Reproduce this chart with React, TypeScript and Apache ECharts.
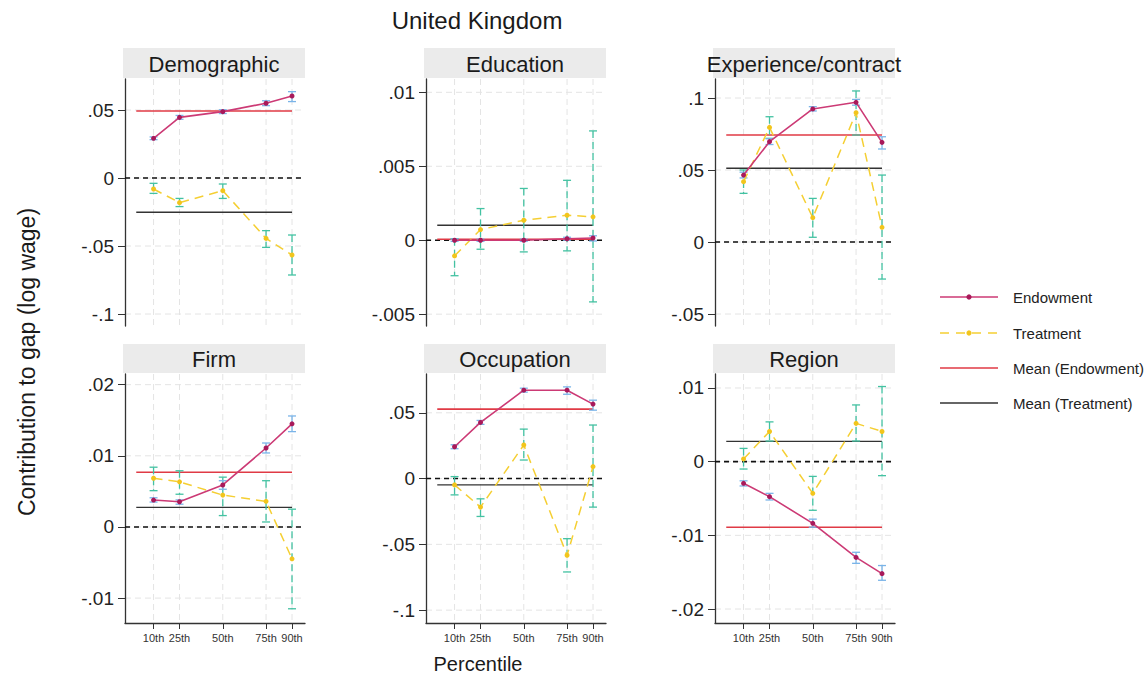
import { useEffect, useRef } from "react";
import * as echarts from "echarts";

// Percentiles on the x axis
const PCT = [10, 25, 50, 75, 90];
const PCT_LABELS = ["10th", "25th", "50th", "75th", "90th"];

const PANEL_NAMES = ["Demographic", "Education", "Experience/contract", "Firm", "Occupation", "Region"];

// Endowment estimates per percentile: [estimate, lower CI, upper CI]
const endowDemographic = [[0.0292, 0.0282, 0.0302], [0.0446, 0.0432, 0.046], [0.0488, 0.0474, 0.0502], [0.055, 0.0532, 0.0568], [0.0603, 0.0562, 0.0635]];
const endowEducation = [[0.0, -0.00008, 0.00008], [0.0, -0.00008, 0.00008], [0.0, -0.00008, 0.00008], [0.0001, 0.0, 0.0002], [0.00015, -0.00005, 0.0003]];
const endowExperience = [[0.0465, 0.0445, 0.0485], [0.0697, 0.0677, 0.0717], [0.0924, 0.091, 0.094], [0.097, 0.095, 0.099], [0.0692, 0.0646, 0.0731]];
const endowFirm = [[0.00378, 0.0035, 0.0041], [0.00354, 0.0032, 0.0038], [0.0059, 0.0053, 0.0065], [0.0111, 0.0104, 0.0118], [0.0145, 0.0134, 0.0156]];
const endowOccupation = [[0.0242, 0.0227, 0.0257], [0.0427, 0.0412, 0.0442], [0.0672, 0.0657, 0.0687], [0.0672, 0.0641, 0.0697], [0.0566, 0.052, 0.0596]];
const endowRegion = [[-0.00294, -0.0033, -0.0026], [-0.00475, -0.0052, -0.0043], [-0.00837, -0.0089, -0.0078], [-0.013, -0.0138, -0.0123], [-0.0152, -0.0161, -0.0141]];

// Treatment estimates per percentile: [estimate, lower CI, upper CI]
const treatDemographic = [[-0.0081, -0.0113, -0.0039], [-0.0181, -0.021, -0.015], [-0.0093, -0.015, -0.0044], [-0.0444, -0.051, -0.0387], [-0.0566, -0.0713, -0.0419]];
const treatEducation = [[-0.00106, -0.0024, 0.0001], [0.00072, -0.00061, 0.00214], [0.00135, -0.00079, 0.0035], [0.00169, -0.00072, 0.00405], [0.00158, -0.00417, 0.00739]];
const treatExperience = [[0.0419, 0.0338, 0.05], [0.0796, 0.072, 0.087], [0.0169, 0.0033, 0.0303], [0.0898, 0.0743, 0.1049], [0.0102, -0.0257, 0.0465]];
const treatFirm = [[0.00685, 0.0051, 0.0084], [0.00634, 0.0046, 0.0079], [0.00448, 0.0016, 0.007], [0.0036, 0.0007, 0.0065], [-0.00448, -0.0115, 0.0025]];
const treatOccupation = [[-0.0048, -0.0124, 0.0015], [-0.0217, -0.0288, -0.0154], [0.0255, 0.0141, 0.0376], [-0.0583, -0.071, -0.0457], [0.0091, -0.0217, 0.0407]];
const treatRegion = [[0.00037, -0.001, 0.0018], [0.0041, 0.0028, 0.0054], [-0.0043, -0.0066, -0.002], [0.0052, 0.0028, 0.0077], [0.0041, -0.0019, 0.0102]];

// Means: [endowment, treatment]
const meanDemographic = [0.0493, -0.0252];
const meanEducation = [0.00007, 0.00101];
const meanExperience = [0.0743, 0.0512];
const meanFirm = [0.0077, 0.00275];
const meanOccupation = [0.0528, -0.0048];
const meanRegion = [-0.0089, 0.00276];

// Y-axis tick values per panel
const ticksDemographic = [-0.1, -0.05, 0, 0.05];
const ticksEducation = [-0.005, 0, 0.005, 0.01];
const ticksExperience = [-0.05, 0, 0.05, 0.1];
const ticksFirm = [-0.01, 0, 0.01, 0.02];
const ticksOccupation = [-0.1, -0.05, 0, 0.05];
const ticksRegion = [-0.02, -0.01, 0, 0.01];

// Y-axis extents per panel
const rangeDemographic = [-0.1088, 0.0728];
const rangeEducation = [-0.0058, 0.0109];
const rangeExperience = [-0.0583, 0.1132];
const rangeFirm = [-0.0135, 0.0215];
const rangeOccupation = [-0.1098, 0.0795];
const rangeRegion = [-0.0219, 0.0119];

const ENDOW = [endowDemographic, endowEducation, endowExperience, endowFirm, endowOccupation, endowRegion];
const TREAT = [treatDemographic, treatEducation, treatExperience, treatFirm, treatOccupation, treatRegion];
const MEANS = [meanDemographic, meanEducation, meanExperience, meanFirm, meanOccupation, meanRegion];
const TICKS = [ticksDemographic, ticksEducation, ticksExperience, ticksFirm, ticksOccupation, ticksRegion];
const RANGES = [rangeDemographic, rangeEducation, rangeExperience, rangeFirm, rangeOccupation, rangeRegion];

const FONT = "Liberation Sans, Arial, Helvetica, sans-serif";
const C_ENDOW = "#cc3a75";
const C_ENDOW_DOT = "#a8195a";
const C_ENDOW_CI = "#7ab4e8";
const C_TREAT = "#f5cf33";
const C_TREAT_CI = "#43c2a2";
const C_MEAN_E = "#e03a45";
const C_MEAN_T = "#333333";
const C_GRID = "#e4e4e4";
const C_AXIS = "#333333";

const COL_LEFT = [125, 426, 715];
const ROW_TOP = [79, 374];
const ROW_H = [247, 249];
const PLOT_W = 180;
const X_MIN = -6.5;
const X_MAX = 97.5;

const fmtTick = (v: number) => (v === 0 ? "0" : String(v).replace(/^(-?)0\./, "$1."));

function errorBars(color: string, dashed: boolean) {
  return (params: any, api: any) => {
    const x = api.value(0);
    const hi = api.coord([x, api.value(2)]);
    const lo = api.coord([x, api.value(1)]);
    const w = 4;
    const base = { stroke: color, lineWidth: 1.3 };
    return {
      type: "group",
      children: [
        { type: "line", shape: { x1: hi[0], y1: hi[1], x2: lo[0], y2: lo[1] }, style: { ...base, lineDash: dashed ? [7, 4] : null } },
        { type: "line", shape: { x1: hi[0] - w, y1: hi[1], x2: hi[0] + w, y2: hi[1] }, style: base },
        { type: "line", shape: { x1: lo[0] - w, y1: lo[1], x2: lo[0] + w, y2: lo[1] }, style: base },
      ],
    };
  };
}

function buildOption() {
  const grid: any[] = [];
  const xAxis: any[] = [];
  const yAxis: any[] = [];
  const series: any[] = [];
  const graphic: any[] = [];

  PANEL_NAMES.forEach((name, i) => {
    const row = Math.floor(i / 3);
    const col = i % 3;
    const left = COL_LEFT[col];
    const top = ROW_TOP[row];
    const h = ROW_H[row];
    const bottomRow = row === 1;

    grid.push({ left, top, width: PLOT_W, height: h, containLabel: false });

    xAxis.push({
      type: "value",
      gridIndex: i,
      min: X_MIN,
      max: X_MAX,
      axisLine: { show: bottomRow, onZero: false, lineStyle: { color: C_AXIS, width: 1.3 } },
      axisTick: { show: bottomRow, customValues: PCT, length: 6, lineStyle: { color: C_AXIS } },
      axisLabel: {
        show: bottomRow,
        customValues: PCT,
        formatter: (v: number) => PCT_LABELS[PCT.indexOf(v)] ?? "",
        fontFamily: FONT,
        fontSize: 11,
        color: "#333",
        margin: 9,
      },
      splitLine: { show: false },
    });

    yAxis.push({
      type: "value",
      gridIndex: i,
      min: RANGES[i][0],
      max: RANGES[i][1],
      axisLine: { show: true, onZero: false, lineStyle: { color: C_AXIS, width: 1.3 } },
      axisTick: { show: true, customValues: TICKS[i], length: 7, lineStyle: { color: C_AXIS } },
      axisLabel: {
        customValues: TICKS[i],
        formatter: fmtTick,
        fontFamily: FONT,
        fontSize: 19,
        color: "#222",
        margin: 11,
      },
      splitLine: { show: false },
    });

    // Light dashed grid lines at the tick positions
    series.push({
      type: "custom",
      xAxisIndex: i,
      yAxisIndex: i,
      z: 0,
      silent: true,
      data: TICKS[i].map((v) => [PCT[0], v]),
      renderItem: (params: any, api: any) => {
        const cs = params.coordSys;
        const y = api.coord([PCT[0], api.value(1)])[1];
        return { type: "line", shape: { x1: cs.x, y1: y, x2: cs.x + cs.width, y2: y }, style: { stroke: C_GRID, lineWidth: 1, lineDash: [6, 4] } };
      },
    });
    series.push({
      type: "custom",
      xAxisIndex: i,
      yAxisIndex: i,
      z: 0,
      silent: true,
      data: PCT.map((p) => [p, 0]),
      renderItem: (params: any, api: any) => {
        const cs = params.coordSys;
        const x = api.coord([api.value(0), 0])[0];
        return { type: "line", shape: { x1: x, y1: cs.y, x2: x, y2: cs.y + cs.height }, style: { stroke: C_GRID, lineWidth: 1, lineDash: [6, 4] } };
      },
    });
    // Zero reference line
    series.push({
      type: "custom",
      xAxisIndex: i,
      yAxisIndex: i,
      z: 1,
      silent: true,
      data: [[PCT[0], 0]],
      renderItem: (params: any, api: any) => {
        const cs = params.coordSys;
        const y = api.coord([PCT[0], api.value(1)])[1];
        return { type: "line", shape: { x1: cs.x, y1: y, x2: cs.x + cs.width, y2: y }, style: { stroke: "#111", lineWidth: 1.6, lineDash: [5, 4] } };
      },
    });

    // Mean lines
    series.push({
      type: "line",
      name: "Mean (Endowment)",
      xAxisIndex: i,
      yAxisIndex: i,
      data: [[0, MEANS[i][0]], [90, MEANS[i][0]]],
      symbol: "none",
      lineStyle: { color: C_MEAN_E, width: 1.6 },
      z: 2,
    });
    series.push({
      type: "line",
      name: "Mean (Treatment)",
      xAxisIndex: i,
      yAxisIndex: i,
      data: [[0, MEANS[i][1]], [90, MEANS[i][1]]],
      symbol: "none",
      lineStyle: { color: C_MEAN_T, width: 1.4 },
      z: 2,
    });

    // Confidence intervals
    series.push({
      type: "custom",
      xAxisIndex: i,
      yAxisIndex: i,
      z: 3,
      data: TREAT[i].map((r, k) => [PCT[k], r[1], r[2]]),
      encode: { x: 0, y: [1, 2] },
      renderItem: errorBars(C_TREAT_CI, true),
    });
    series.push({
      type: "custom",
      xAxisIndex: i,
      yAxisIndex: i,
      z: 3,
      data: ENDOW[i].map((r, k) => [PCT[k], r[1], r[2]]),
      encode: { x: 0, y: [1, 2] },
      renderItem: errorBars(C_ENDOW_CI, false),
    });

    // Point estimates
    series.push({
      type: "line",
      name: "Treatment",
      xAxisIndex: i,
      yAxisIndex: i,
      data: TREAT[i].map((r, k) => [PCT[k], r[0]]),
      symbol: "circle",
      symbolSize: 5,
      itemStyle: { color: "#f2c51c" },
      lineStyle: { color: C_TREAT, width: 1.5, type: [9, 6] },
      z: 4,
    });
    series.push({
      type: "line",
      name: "Endowment",
      xAxisIndex: i,
      yAxisIndex: i,
      data: ENDOW[i].map((r, k) => [PCT[k], r[0]]),
      symbol: "circle",
      symbolSize: 5,
      itemStyle: { color: C_ENDOW_DOT },
      lineStyle: { color: C_ENDOW, width: 1.6 },
      z: 5,
    });

    // Panel header strip
    const hy = row === 0 ? 48 : 344;
    const hh = row === 0 ? 30 : 29;
    graphic.push({
      type: "rect",
      shape: { x: left - 2, y: hy, width: PLOT_W + 2, height: hh },
      style: { fill: "#ebebeb" },
      z: 0,
    });
    graphic.push({
      type: "text",
      x: left - 1 + PLOT_W / 2,
      y: hy + hh / 2 + 1,
      style: { text: name, font: `22px ${FONT}`, fill: "#1a1a1a", align: "center", verticalAlign: "middle" },
      z: 1,
    });
  });

  // Overall title and axis titles
  graphic.push({
    type: "text",
    x: 477,
    y: 20,
    style: { text: "United Kingdom", font: `24px ${FONT}`, fill: "#1a1a1a", align: "center", verticalAlign: "middle" },
  });
  graphic.push({
    type: "text",
    x: 27,
    y: 362,
    rotation: Math.PI / 2,
    style: { text: "Contribution to gap (log wage)", font: `23px ${FONT}`, fill: "#1a1a1a", align: "center", verticalAlign: "middle" },
  });
  graphic.push({
    type: "text",
    x: 478,
    y: 664,
    style: { text: "Percentile", font: `20px ${FONT}`, fill: "#1a1a1a", align: "center", verticalAlign: "middle" },
  });

  // Legend
  const legendRows = [
    { label: "Endowment", color: C_ENDOW, dot: C_ENDOW_DOT, dash: null as number[] | null },
    { label: "Treatment", color: C_TREAT, dot: "#f2c51c", dash: [9, 7] },
    { label: "Mean (Endowment)", color: C_MEAN_E, dot: null as string | null, dash: null },
    { label: "Mean (Treatment)", color: C_MEAN_T, dot: null, dash: null },
  ];
  const legendY = [297, 333, 368, 403];
  legendRows.forEach((r, k) => {
    const y = legendY[k];
    graphic.push({
      type: "line",
      shape: { x1: 940, y1: y, x2: 998, y2: y },
      style: { stroke: r.color, lineWidth: 1.6, lineDash: r.dash },
    });
    if (r.dot) {
      graphic.push({ type: "circle", shape: { cx: 969, cy: y, r: 2.6 }, style: { fill: r.dot } });
    }
    graphic.push({
      type: "text",
      x: 1013,
      y,
      style: { text: r.label, font: `15px ${FONT}`, fill: "#222", align: "left", verticalAlign: "middle" },
    });
  });

  return {
    animation: false,
    backgroundColor: "#ffffff",
    grid,
    xAxis,
    yAxis,
    series,
    graphic,
  };
}

export default function App() {
  const ref = useRef<HTMLDivElement>(null);

  useEffect(() => {
    document.body.style.margin = "0";
    if (!ref.current) return;
    const chart = echarts.init(ref.current, undefined, { renderer: "svg" });
    chart.setOption(buildOption() as any);
    return () => chart.dispose();
  }, []);

  return <div ref={ref} style={{ width: 1148, height: 677 }} />;
}
